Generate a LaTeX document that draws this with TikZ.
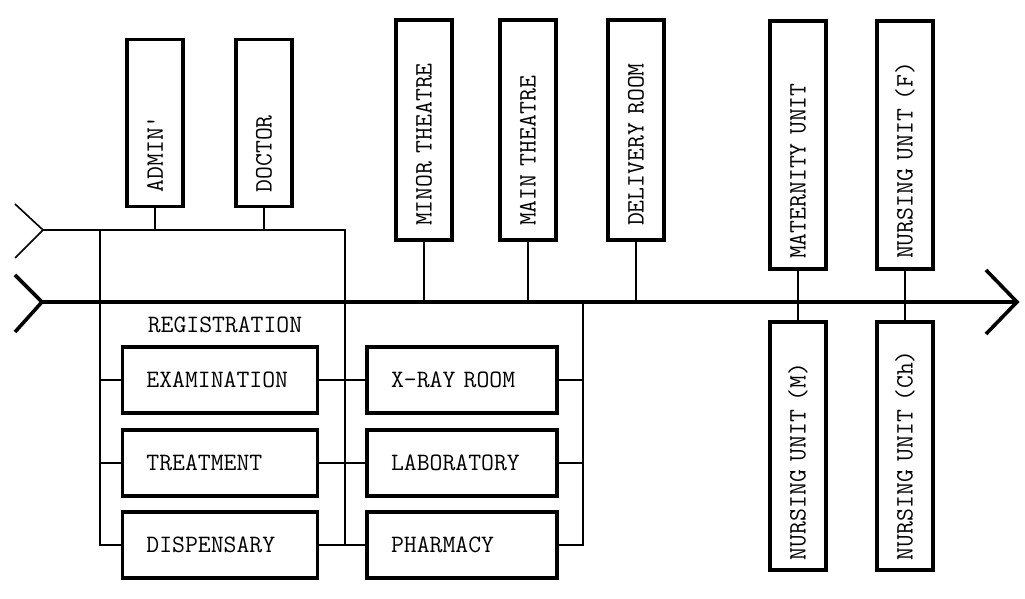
\documentclass[tikz,border=0pt]{standalone}
\usepackage{fontspec}
\usetikzlibrary{positioning}

\begin{document}
\begin{tikzpicture}[x=0.5pt,y=-0.5pt,every
            node/.style={font=\fontsize{12.5}{14}\selectfont\ttfamily},
            room/.style={draw,line width=1.6pt,inner xsep=12pt,inner
              ysep=0pt,minimum height=33pt,align=left},
            vroom/.style={room,rotate=90,minimum height=28pt,inner xsep=7pt},
            link/.style={line width=0.8pt},
            spine/.style={line width=1.8pt,line join=miter}
            ]
            \useasboundingbox (0,0) rectangle (1025,599);
            % rooms above the corridors
            \node[vroom,minimum width=83.5pt,text width=69.5pt] (admin) at (155,123) {ADMIN'};
            \node[vroom,minimum width=83.5pt,text width=69.5pt] (doctor) at (264,123) {DOCTOR};
            \node[vroom,minimum width=110pt,text width=96pt] (minor) at (424,130) {MINOR THEATRE};
            \node[vroom,minimum width=110pt,text width=96pt] (main) at (528,130) {MAIN THEATRE};
            \node[vroom,minimum width=110pt,text width=96pt] (delivery) at (636,130) {DELIVERY ROOM};
            \node[vroom,minimum width=124pt,text width=114pt,inner xsep=5pt] (maternity) at (798,145) {MATERNITY UNIT};
            \node[vroom,minimum width=124pt,text width=114pt,inner xsep=5pt] (nursef) at (905,145) {NURSING UNIT (F)};
            % rooms below
            \node[vroom,minimum width=124pt,text width=114pt,inner xsep=5pt] (nursem) at (798,446) {NURSING UNIT (M)};
            \node[vroom,minimum width=124pt,text width=114pt,inner xsep=5pt] (nursech) at (905,446) {NURSING UNIT (Ch)};
            \node (reg) at (225,325) {REGISTRATION};
            \node[room,text width=73.5pt] (exam) at (220,380) {EXAMINATION};
            \node[room,text width=73.5pt] (treat) at (220,463) {TREATMENT};
            \node[room,text width=73.5pt] (disp) at (220,545) {DISPENSARY};
            \node[room,text width=71pt] (xray) at (462,380) {X-RAY ROOM};
            \node[room,text width=71pt] (lab) at (462,463) {LABORATORY};
            \node[room,text width=71pt] (pharm) at (462,545) {PHARMACY};
            % corridors
            \coordinate (tl) at (43,230); \coordinate (tr) at (345,230);
            \coordinate (lv) at (100,230); \coordinate (rv) at (583,302);
            \coordinate (bl) at (42,302); \coordinate (br) at (1017,302);
            \draw[link] (tl) ++(-28,-26) -- (tl) -- ++(-28,28);
            \draw[link] (tl) -- (tr) -- (tr |- disp.east);
            \draw[link] (lv) |- (disp.west);
            \foreach \n in {exam,treat} \draw[link] (lv |- \n.west) -- (\n.west);
            \foreach \a/\b in {exam/xray,treat/lab,disp/pharm} \draw[link] (\a) -- (\b);
            \draw[link] (rv) |- (pharm.east);
            \foreach \n in {xray,lab} \draw[link] (\n.east) -- (\n.east -| rv);
            \foreach \n in {admin,doctor} \draw[link] (\n.west) -- (\n.west |- tl);
            \foreach \n in {minor,main,delivery} \draw[link] (\n.west) -- (\n.west |- bl);
            \draw[link] (maternity) -- (nursem); \draw[link] (nursef) -- (nursech);
            \draw[spine] (bl) ++(-27,-27) -- (bl) -- ++(-27,30);
            \draw[spine] (bl) -- (br);
            \draw[spine] (br) ++(-31,-32) -- (br) -- ++(-31,32);
          \end{tikzpicture}
\end{document}
